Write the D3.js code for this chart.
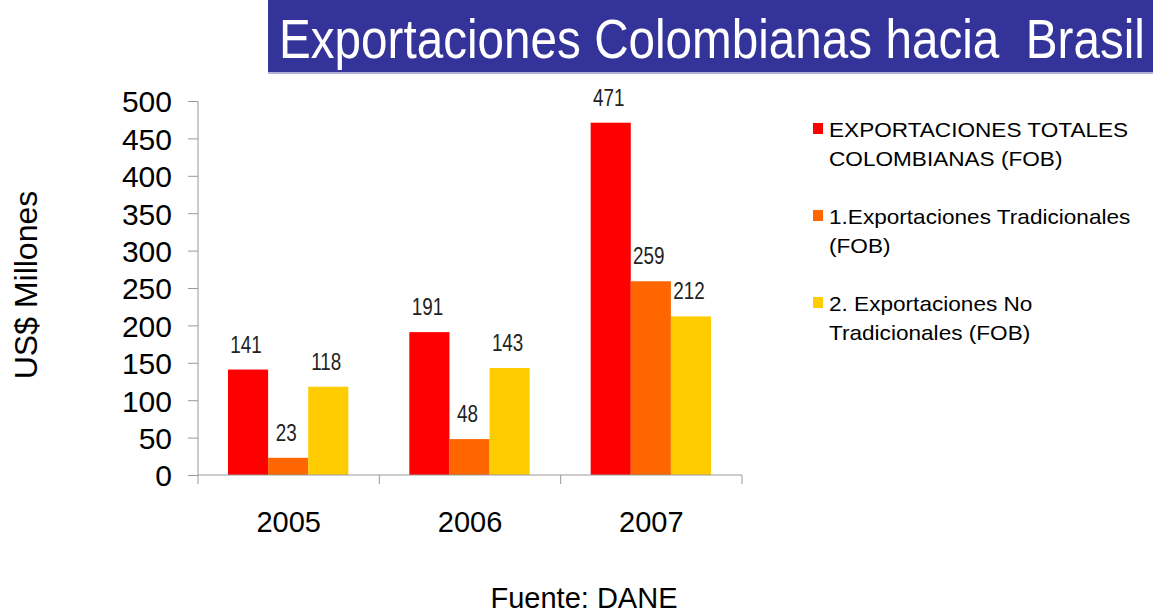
<!DOCTYPE html>
<html>
<head>
<meta charset="utf-8">
<script src="https://cdn.jsdelivr.net/npm/d3@7"></script>
<style>
  body { margin: 0; background: #fff; }
  text { font-family: "Liberation Sans", Arial, sans-serif; }
</style>
</head>
<body>
<div class="container"></div>
<script>
var years = ["2005", "2006", "2007"];
var series = ["EXPORTACIONES TOTALES COLOMBIANAS (FOB)", "1.Exportaciones Tradicionales (FOB)", "2. Exportaciones No Tradicionales (FOB)"];
var totales = [141, 191, 471];
var tradicionales = [23, 48, 259];
var noTradicionales = [118, 143, 212];
var yTicks = [0, 50, 100, 150, 200, 250, 300, 350, 400, 450, 500];
var legendLines = [["EXPORTACIONES TOTALES", "COLOMBIANAS (FOB)"], ["1.Exportaciones Tradicionales", "(FOB)"], ["2. Exportaciones No", "Tradicionales (FOB)"]];
var colors = ["#ff0000", "#ff6600", "#ffcc00"];

var values = [totales, tradicionales, noTradicionales];
var data = [];
years.forEach(function(yr, i) {
  series.forEach(function(s, j) {
    data.push({year: yr, key: j, value: values[j][i]});
  });
});

var svg = d3.select(".container")
  .append("svg")
    .attr("width", 1153)
    .attr("height", 616);

// title banner
svg.append("rect")
  .attr("x", 268).attr("y", 0)
  .attr("width", 885).attr("height", 72)
  .attr("fill", "#333399");
svg.append("line")
  .attr("x1", 268).attr("x2", 1153)
  .attr("y1", 73).attr("y2", 73)
  .style("stroke", "#9999cc").style("stroke-width", 1.5);
var title = svg.append("text")
  .attr("fill", "#fff")
  .style("font-size", "56px")
  .style("white-space", "pre")
  .attr("xml:space", "preserve")
  .text("Exportaciones Colombianas hacia  Brasil");
// squeeze the title into the banner like the original condensed type
var tw = title.node().getComputedTextLength();
title.attr("transform", "translate(279,58)scale(" + (866 / tw) + ",1)");

var margin = {left: 198, top: 101},
    width = 544,
    height = 374;

var g = svg.append("g")
  .attr("transform", "translate(" + margin.left + "," + margin.top + ")");

var x = d3.scaleBand().domain(years).range([0, width]);
var xs = d3.scaleBand().domain([0, 1, 2]).range([30, x.bandwidth() - 31]);
var y = d3.scaleLinear().domain([0, 500]).range([height, 0]);

// bars
g.selectAll("rect.bar")
  .data(data)
  .enter()
  .append("rect")
    .attr("class", "bar")
    .attr("x", function(d) { return x(d.year) + xs(d.key); })
    .attr("y", function(d) { return y(d.value); })
    .attr("width", xs.bandwidth())
    .attr("height", function(d) { return height - y(d.value); })
    .attr("fill", function(d) { return colors[d.key]; });

// value labels (narrow, like the original)
g.selectAll("text.val")
  .data(data)
  .enter()
  .append("text")
    .attr("class", "val")
    .attr("transform", function(d) {
      return "translate(" + (x(d.year) + xs(d.key) + xs.bandwidth() / 2 - 2) + "," + (y(d.value) - 17) + ")scale(0.82,1)";
    })
    .attr("text-anchor", "middle")
    .style("font-size", "23px")
    .attr("fill", "#222")
    .text(function(d) { return d.value; });

// y axis
var yAxis = g.append("g")
  .call(d3.axisLeft(y).tickValues(yTicks).tickSize(10).tickPadding(16));
yAxis.selectAll("text").style("font-size", "30px").attr("fill", "#000").attr("dy", "0.36em");
yAxis.selectAll("line").attr("stroke", "#999");
yAxis.select(".domain").attr("stroke", "#999").attr("d", "M0," + height + "V0");

// x axis
var xAxis = g.append("g")
  .attr("transform", "translate(0," + height + ")")
  .call(d3.axisBottom(x).tickSize(0).tickPadding(36));
xAxis.select(".domain").attr("stroke", "#999").attr("d", "M0,0H" + width);
xAxis.selectAll("text").style("font-size", "29px").attr("fill", "#000");
xAxis.selectAll(".sep")
  .data([0].concat(years.map(function(d) { return x(d) + x.bandwidth(); })))
  .enter()
  .append("line")
    .attr("x1", function(d) { return d; })
    .attr("x2", function(d) { return d; })
    .attr("y1", 0).attr("y2", 9)
    .attr("stroke", "#999");

svg.append("text")
  .attr("transform", "translate(37,285)rotate(-90)")
  .attr("text-anchor", "middle")
  .style("font-size", "32px")
  .text("US$ Millones");

// legend
var legend = svg.append("g").attr("transform", "translate(813,137)");
legendLines.forEach(function(lines, i) {
  var lg = legend.append("g").attr("transform", "translate(0," + (i * 87) + ")");
  lg.append("rect")
    .attr("x", 0).attr("y", -14)
    .attr("width", 10).attr("height", 11)
    .attr("fill", colors[i]);
  lines.forEach(function(t, k) {
    lg.append("text")
      .attr("transform", "translate(16," + (k * 29) + ")scale(1.13,1)")
      .style("font-size", "20px")
      .text(t);
  });
});

svg.append("text")
  .attr("x", 584).attr("y", 608)
  .attr("text-anchor", "middle")
  .style("font-size", "29px")
  .text("Fuente: DANE");
</script>
</body>
</html>
